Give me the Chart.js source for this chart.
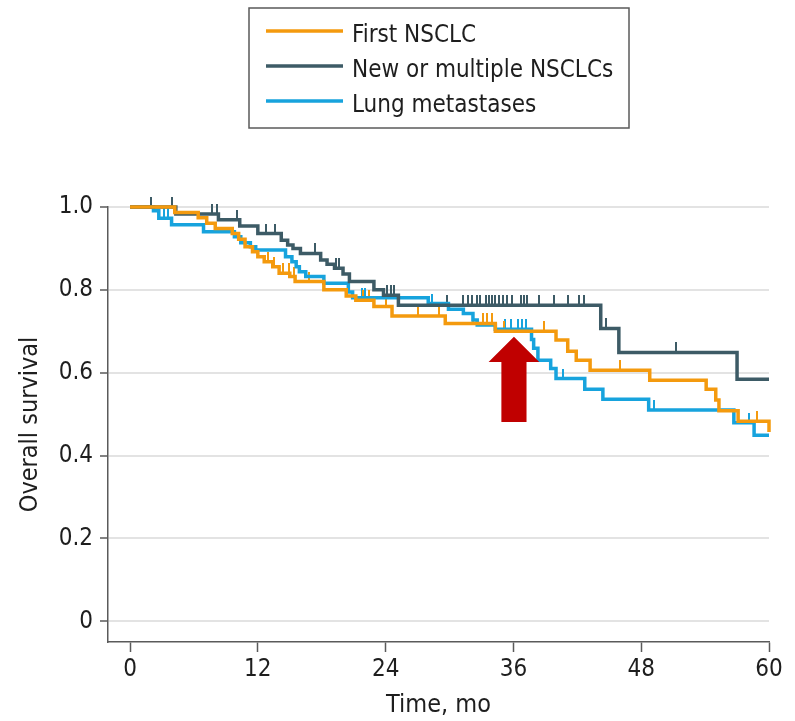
<!DOCTYPE html>
<html>
<head>
<meta charset="utf-8">
<script src="https://cdn.jsdelivr.net/npm/chart.js@4.4.1/dist/chart.umd.min.js"></script>
<style>
html,body{margin:0;padding:0;background:#fff;}
#wrap{width:795px;height:721px;position:relative;}
</style>
</head>
<body>
<div id="wrap"><canvas id="c" width="795" height="721"></canvas></div>
<script>
// ---------- data ----------
const SERIES_LABELS = ['First NSCLC', 'New or multiple NSCLCs', 'Lung metastases'];

const FIRST_TIMES = [0, 4.2, 6.4, 7.2, 8.0, 9.6, 10.2, 10.8, 11.5, 12.0, 12.6, 13.4, 14.0, 15.0, 15.5, 18.2, 20.3, 21.2, 22.9, 24.6, 29.6, 34.3, 40.0, 41.1, 41.9, 43.2, 48.8, 54.1, 55.0, 55.3, 57.1, 60];
const FIRST_SURV  = [1.0, 0.987, 0.974, 0.961, 0.948, 0.936, 0.922, 0.904, 0.892, 0.880, 0.868, 0.856, 0.840, 0.832, 0.820, 0.800, 0.785, 0.775, 0.760, 0.737, 0.719, 0.700, 0.679, 0.652, 0.630, 0.606, 0.582, 0.560, 0.534, 0.508, 0.483, 0.457];
const FIRST_CENSOR = [13.0, 13.5, 14.4, 14.9, 15.4, 16.8, 21.9, 22.4, 24.0, 27.0, 29.0, 32.2, 33.1, 33.5, 34.0, 35.1, 38.9, 46.0, 58.9];

const NEW_TIMES = [0, 4.3, 8.3, 10.3, 12.0, 14.2, 14.8, 15.3, 16.0, 17.9, 18.5, 19.2, 20.0, 20.6, 22.9, 23.8, 25.2, 44.2, 45.9, 57.0, 60];
const NEW_SURV  = [1.0, 0.983, 0.969, 0.954, 0.936, 0.920, 0.908, 0.900, 0.888, 0.872, 0.862, 0.852, 0.838, 0.820, 0.800, 0.787, 0.763, 0.707, 0.649, 0.584, 0.584];
const NEW_CENSOR = [2.0, 3.9, 7.7, 8.2, 10.0, 12.8, 13.6, 17.4, 19.3, 19.6, 24.1, 24.5, 24.8, 29.8, 31.3, 31.7, 32.1, 32.6, 32.9, 33.4, 33.7, 34.0, 34.3, 34.6, 35.0, 35.4, 35.9, 36.7, 37.0, 37.3, 38.4, 39.8, 41.1, 42.2, 42.6, 44.7, 51.3];

const LUNG_TIMES = [0, 2.2, 2.7, 3.9, 6.9, 9.8, 10.4, 11.3, 11.8, 14.6, 15.2, 15.6, 15.9, 16.5, 18.2, 20.5, 20.9, 28.0, 29.9, 31.3, 32.2, 32.6, 34.3, 37.7, 37.9, 38.3, 39.5, 40.0, 42.7, 44.4, 48.7, 56.7, 58.6, 60];
const LUNG_SURV  = [1.0, 0.991, 0.973, 0.957, 0.940, 0.928, 0.914, 0.904, 0.896, 0.880, 0.868, 0.856, 0.844, 0.832, 0.816, 0.795, 0.781, 0.767, 0.753, 0.743, 0.727, 0.715, 0.705, 0.680, 0.659, 0.630, 0.610, 0.586, 0.560, 0.536, 0.510, 0.479, 0.449, 0.449];
const LUNG_CENSOR = [3.2, 3.6, 21.8, 22.1, 28.4, 35.2, 35.8, 36.4, 36.8, 37.2, 40.7, 49.2, 58.1];

const X_TICKS = [0, 12, 24, 36, 48, 60];
const Y_TICKS = [0, 0.2, 0.4, 0.6, 0.8, 1.0];

// annotation arrow (data units)
const ARROW = { t: 36.05, tipS: 0.687, headBaseS: 0.626, tailS: 0.481, headHalf: 2.38, shaftHalf: 1.18 };

// ---------- styles ----------
const COLORS = ['#F49A0E', '#3D5B66', '#17A3DD'];
const ARROW_COLOR = '#C00000';
const FONT = "'DejaVu Sans Condensed', 'Liberation Sans Narrow', 'DejaVu Sans', sans-serif";
const TEXT = '#1e1e1e';
const AXIS = '#5a5a5a';

function survAt(times, surv, t) {
  let s = surv[0];
  for (let i = 0; i < times.length; i++) if (times[i] <= t) s = surv[i];
  return s;
}
function tickImage(color) {
  const c = document.createElement('canvas');
  c.width = 2; c.height = 20;
  const g = c.getContext('2d');
  g.fillStyle = color;
  g.fillRect(0, 0, 2, 10);
  return c;
}

const SERIES = [
  [FIRST_TIMES, FIRST_SURV, FIRST_CENSOR],
  [NEW_TIMES, NEW_SURV, NEW_CENSOR],
  [LUNG_TIMES, LUNG_SURV, LUNG_CENSOR]
];

const datasets = [];
SERIES.forEach(([times, surv], i) => {
  datasets.push({
    label: SERIES_LABELS[i],
    data: times.map((t, k) => ({ x: t, y: surv[k] })),
    borderColor: COLORS[i],
    backgroundColor: COLORS[i],
    borderWidth: 3.5,
    stepped: 'before',
    pointRadius: 0,
    fill: false,
    clip: false,
    borderJoinStyle: 'miter',
    order: i
  });
});
SERIES.forEach(([times, surv, cens], i) => {
  datasets.push({
    label: SERIES_LABELS[i] + ' (censored)',
    data: cens.map(t => ({ x: t, y: survAt(times, surv, t) })),
    showLine: false,
    pointStyle: tickImage(COLORS[i]),
    pointRadius: 2,
    pointHoverRadius: 2,
    clip: false,
    order: 10 + i
  });
});

const boxLegend = {
  id: 'boxLegend',
  afterDraw(chart) {
    const ctx = chart.ctx;
    ctx.save();
    ctx.strokeStyle = AXIS;
    ctx.lineWidth = 1.5;
    ctx.strokeRect(249, 8, 380, 120);
    ctx.font = '24px ' + FONT;
    ctx.textBaseline = 'alphabetic';
    ctx.textAlign = 'left';
    for (let i = 0; i < 3; i++) {
      const y = 31 + 35 * i;
      ctx.strokeStyle = COLORS[i];
      ctx.lineWidth = 3.5;
      ctx.beginPath();
      ctx.moveTo(266, y);
      ctx.lineTo(343, y);
      ctx.stroke();
      ctx.fillStyle = TEXT;
      ctx.fillText(chart.data.datasets[i].label, 352, y + 11);
    }
    ctx.restore();
  }
};

const arrowPlugin = {
  id: 'arrow',
  afterDatasetsDraw(chart) {
    const xs = chart.scales.x, ys = chart.scales.y, ctx = chart.ctx;
    const X = v => xs.getPixelForValue(v), Y = v => ys.getPixelForValue(v);
    ctx.save();
    ctx.fillStyle = ARROW_COLOR;
    ctx.beginPath();
    ctx.moveTo(X(ARROW.t), Y(ARROW.tipS));
    ctx.lineTo(X(ARROW.t + ARROW.headHalf), Y(ARROW.headBaseS));
    ctx.lineTo(X(ARROW.t + ARROW.shaftHalf), Y(ARROW.headBaseS));
    ctx.lineTo(X(ARROW.t + ARROW.shaftHalf), Y(ARROW.tailS));
    ctx.lineTo(X(ARROW.t - ARROW.shaftHalf), Y(ARROW.tailS));
    ctx.lineTo(X(ARROW.t - ARROW.shaftHalf), Y(ARROW.headBaseS));
    ctx.lineTo(X(ARROW.t - ARROW.headHalf), Y(ARROW.headBaseS));
    ctx.closePath();
    ctx.fill();
    ctx.restore();
  }
};

new Chart(document.getElementById('c'), {
  type: 'line',
  data: { datasets },
  options: {
    responsive: false,
    devicePixelRatio: 1,
    animation: false,
    layout: { padding: { top: 207, right: 26, left: 0, bottom: 0 } },
    plugins: { legend: { display: false }, tooltip: { enabled: false } },
    scales: {
      x: {
        type: 'linear', min: -2.07, max: 60,
        afterBuildTicks: s => { s.ticks = X_TICKS.map(v => ({ value: v })); },
        afterFit: s => { s.height = 79; },
        ticks: { font: { family: FONT, size: 24 }, color: TEXT, padding: 3, maxRotation: 0, autoSkip: false },
        grid: { drawOnChartArea: false, tickColor: AXIS, tickLength: 10, tickWidth: 1.5 },
        border: { color: AXIS, width: 1.5 },
        title: { display: true, text: 'Time, mo', font: { family: FONT, size: 25 }, color: TEXT, padding: { top: 0, bottom: 1 } }
      },
      y: {
        type: 'linear', min: -0.05, max: 1.0,
        afterBuildTicks: s => { s.ticks = Y_TICKS.map(v => ({ value: v })); },
        afterFit: s => { s.width = 108; },
        ticks: { font: { family: FONT, size: 24 }, color: TEXT, padding: 7,
                 callback: v => (v === 0 ? '0' : Number(v).toFixed(1)) },
        grid: { color: '#e3e3e3', lineWidth: 2, tickColor: AXIS, tickLength: 8, tickWidth: 1.5 },
        border: { color: AXIS, width: 1.5 },
        title: { display: true, text: 'Overall survival', font: { family: FONT, size: 25 }, color: TEXT, padding: { top: 15, bottom: 0 } }
      }
    }
  },
  plugins: [boxLegend, arrowPlugin]
});
</script>
</body>
</html>
